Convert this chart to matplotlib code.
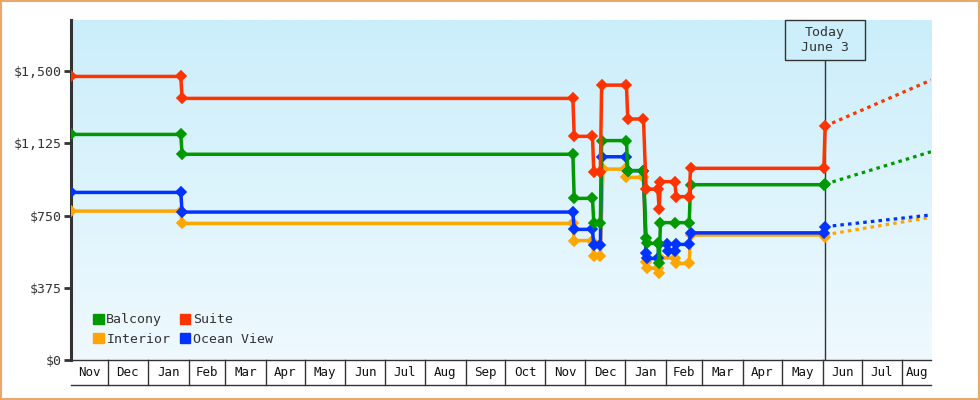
import numpy as np
import matplotlib
matplotlib.use("Agg")
import matplotlib.pyplot as plt
import matplotlib.dates as mdates
import matplotlib.transforms as mtransforms
from matplotlib.colors import LinearSegmentedColormap
from matplotlib.patches import Rectangle, Patch
from matplotlib.ticker import FuncFormatter

# price history
balcony_dates = ["2017-11-03", "2018-01-26", "2018-01-27", "2018-11-22", "2018-11-23",
                 "2018-12-07", "2018-12-08", "2018-12-13", "2018-12-14", "2019-01-02",
                 "2019-01-03", "2019-01-15", "2019-01-17", "2019-01-18", "2019-01-26",
                 "2019-01-27", "2019-01-28", "2019-02-08", "2019-02-19", "2019-02-20",
                 "2019-06-02", "2019-06-03"]
balcony_prices = [1171, 1171, 1068, 1068, 839, 839, 709, 709, 1139, 1139,
                  983, 983, 635, 605, 605, 501, 713, 713, 713, 910, 910, 913]

suite_dates = ["2017-11-03", "2018-01-26", "2018-01-27", "2018-11-22", "2018-11-23",
               "2018-12-07", "2018-12-08", "2018-12-13", "2018-12-14", "2019-01-02",
               "2019-01-03", "2019-01-15", "2019-01-17", "2019-01-26", "2019-01-27",
               "2019-01-28", "2019-02-08", "2019-02-09", "2019-02-19", "2019-02-20",
               "2019-06-02", "2019-06-03"]
suite_prices = [1472, 1472, 1358, 1358, 1161, 1161, 974, 974, 1427, 1427,
                1251, 1251, 887, 887, 782, 926, 926, 848, 848, 995, 995, 1214]

interior_dates = ["2017-11-03", "2018-01-26", "2018-01-27", "2018-11-22", "2018-11-23",
                  "2018-12-07", "2018-12-08", "2018-12-13", "2018-12-15", "2019-01-01",
                  "2019-01-02", "2019-01-15", "2019-01-17", "2019-01-18", "2019-01-26",
                  "2019-01-27", "2019-01-28", "2019-02-08", "2019-02-09", "2019-02-19",
                  "2019-02-20", "2019-06-02", "2019-06-03"]
interior_prices = [773, 773, 709, 709, 620, 620, 538, 538, 991, 991,
                   948, 948, 510, 476, 476, 450, 530, 530, 501, 501, 649, 649, 640]

ocean_dates = ["2017-11-03", "2018-01-26", "2018-01-27", "2018-11-22", "2018-11-23",
               "2018-12-07", "2018-12-08", "2018-12-13", "2018-12-14", "2019-01-02",
               "2019-01-03", "2019-01-15", "2019-01-17", "2019-01-18", "2019-01-26",
               "2019-01-27", "2019-02-02", "2019-02-03", "2019-02-08", "2019-02-09",
               "2019-02-19", "2019-02-20", "2019-06-02", "2019-06-03"]
ocean_prices = [870, 870, 768, 768, 678, 678, 595, 595, 1055, 1055,
                983, 983, 554, 527, 527, 600, 600, 565, 565, 600, 600, 660, 660, 692]

# projected prices from today to the end of the chart
today = "2019-06-03"
forecast_end = "2019-08-23"
balcony_forecast = [913, 1081]
suite_forecast = [1214, 1453]
interior_forecast = [650, 741]
ocean_forecast = [692, 753]

x_start = np.datetime64("2017-11-03")
x_end = np.datetime64(forecast_end)
y_ticks = [0, 375, 750, 1125, 1500]
y_max = 1765

colors = {"Balcony": "#009900", "Suite": "#FF3300",
          "Interior": "#FFA500", "Ocean View": "#0033FF"}
ink = "#333333"
mono = "DejaVu Sans Mono"

fig = plt.figure(figsize=(9.8, 4), dpi=100)
ax = fig.add_axes([71 / 980, 40 / 400, 860 / 980, 340 / 400])

# background gradient
grad = LinearSegmentedColormap.from_list("bg", ["#EFF9FE", "#CBEEFB"])
ax.imshow(np.linspace(0, 1, 256).reshape(-1, 1), cmap=grad, origin="lower",
          extent=[0, 1, 0, 1], transform=ax.transAxes, aspect="auto", zorder=0)

series = [
    ("Interior", interior_dates, interior_prices, interior_forecast),
    ("Ocean View", ocean_dates, ocean_prices, ocean_forecast),
    ("Balcony", balcony_dates, balcony_prices, balcony_forecast),
    ("Suite", suite_dates, suite_prices, suite_forecast),
]
for i, (name, d, p, f) in enumerate(series):
    c = colors[name]
    ax.plot(np.array(d, dtype="datetime64[D]"), p, color=c, lw=2.5,
            marker="D", ms=5, mec=c, mew=1.2, zorder=3 + i,
            solid_joinstyle="round")
    ax.plot(np.array([today, forecast_end], dtype="datetime64[D]"), f, color=c,
            lw=2.3, ls=(0, (1.1, 1.3)), zorder=3 + i)

ax.set_xlim(x_start, x_end)
ax.set_ylim(0, y_max)
ax.set_yticks(y_ticks)
ax.yaxis.set_major_formatter(FuncFormatter(lambda v, p: f"${v:,.0f}"))
ax.tick_params(axis="y", length=5, width=2, color=ink, labelcolor=ink,
               labelsize=9.5, pad=2)
for lab in ax.get_yticklabels():
    lab.set_fontfamily(mono)
ax.set_xticks([])
for s in ["top", "right"]:
    ax.spines[s].set_visible(False)
ax.spines["left"].set_linewidth(2.2)
ax.spines["left"].set_color(ink)
ax.spines["bottom"].set_linewidth(1)
ax.spines["bottom"].set_color(ink)

# month boxes under the axis
month_starts = np.arange(np.datetime64("2017-12"), np.datetime64("2019-09"),
                         dtype="datetime64[M]").astype("datetime64[D]")
edges = np.concatenate([[x_start], month_starts, [x_end]])
edge_num = mdates.date2num(edges)
trans = mtransforms.blended_transform_factory(ax.transData, ax.transAxes)
box_h = 25 / 340
for i in range(len(edges) - 1):
    name = edges[i].astype(object).strftime("%b")
    ax.text((edge_num[i] + edge_num[i + 1]) / 2, -box_h / 2, name, transform=trans,
            ha="center", va="center", fontsize=9, family=mono, color="#111111")
for e in edge_num[1:-1]:
    ax.plot([e, e], [0, -box_h], transform=trans, color=ink, lw=1, clip_on=False)
ax.plot([edge_num[0], edge_num[-1]], [-box_h, -box_h], transform=trans,
        color=ink, lw=1, clip_on=False)

# today marker
t_num = mdates.date2num(np.datetime64(today))
t_frac = (t_num - edge_num[0]) / (edge_num[-1] - edge_num[0])
box_bottom = 1 - 40 / 340
ax.plot([t_num, t_num], [0, box_bottom], transform=trans, color=ink, lw=1, zorder=2)
ax.add_patch(Rectangle((t_frac - 40 / 860, box_bottom), 80 / 860, 40 / 340,
                       transform=ax.transAxes, facecolor="#CDEFFB",
                       edgecolor=ink, lw=1, zorder=10, clip_on=False))
ax.text(t_frac, 1 - 20 / 340, "Today\nJune 3", transform=ax.transAxes,
        ha="center", va="center", fontsize=9.5, family=mono, color=ink,
        linespacing=1.25, zorder=11)

# legend
handles = [Patch(color=colors[n], label=n)
           for n in ["Balcony", "Interior", "Suite", "Ocean View"]]
leg = ax.legend(handles=handles, ncol=2, loc="lower left",
                bbox_to_anchor=(0.018, 0.022), frameon=False,
                prop={"family": mono, "size": 9.5}, handlelength=0.8,
                handleheight=0.8, handletextpad=0.2, columnspacing=0.7,
                labelspacing=0.5, borderpad=0)
for t in leg.get_texts():
    t.set_color(ink)

# outer border
fig.patches.append(Rectangle((0.001, 0.002), 0.998, 0.996, transform=fig.transFigure,
                             fill=False, edgecolor="#E9A96A", lw=1.5))

fig.savefig("out.png", dpi=100, facecolor="white")
